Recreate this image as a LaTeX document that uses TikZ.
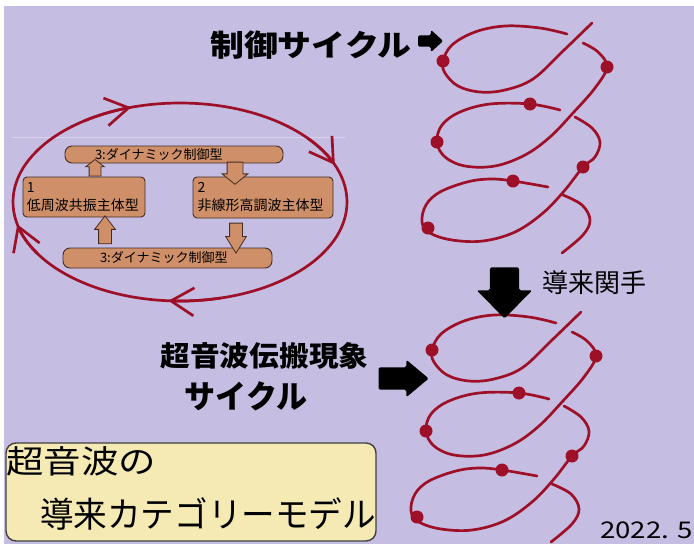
\documentclass[tikz,border=0pt]{standalone}
\usepackage{fontspec}
\setmainfont{Noto Sans CJK JP}
\usetikzlibrary{arrows.meta,shapes.arrows,calc}

\definecolor{lavender}{RGB}{198,190,226}
\definecolor{helixred}{RGB}{158,16,40}
\definecolor{boxbrown}{RGB}{207,143,104}
\definecolor{boxline}{RGB}{70,45,35}
\definecolor{capyellow}{RGB}{246,234,180}

% squeeze or widen a text
\newcommand{\sx}[2]{\scalebox{#1}[1]{#2}}

% one coil, three turns
\newcommand{\helix}{%
  \draw[helix] plot[smooth, tension=0.6] coordinates {(592,-23) (562,-52) (533,-79) (505,-90) (480,-92) (458,-86) (445,-73) (443,-61) (452,-45) (475,-32) (505,-26) (540,-28) (567,-34)};
  \draw[helix] plot[smooth, tension=0.6] coordinates {(583,-43) (598,-52) (607,-67) (595,-88) (573,-113) (550,-137) (525,-155) (495,-166) (465,-166) (445,-157) (437,-142) (442,-125) (460,-112) (490,-104) (530,-104) (560,-110)};
  \draw[helix] plot[smooth, tension=0.6] coordinates {(575,-117) (592,-128) (600,-142) (595,-157) (583,-167) (565,-190) (543,-213) (515,-232) (483,-241) (452,-240) (430,-233) (422,-222) (426,-205) (440,-192) (467,-182) (490,-179) (513,-181) (548,-187)};
  \draw[helix] plot[smooth, tension=0.6] coordinates {(563,-195) (582,-205) (590,-220) (583,-235) (562,-253)};
  \foreach \x/\y in {443/-61, 607/-67, 530/-104, 437/-142, 583/-167, 513/-181, 428/-228}
    \fill[helixred] (\x,\y) circle (6.5);
}

\tikzset{
  helix/.style={draw=helixred, line width=2.7pt, line cap=round},
  ring/.style={draw=helixred, line width=2.7pt},
  barb/.style={ring, line cap=round, -{Straight Barb[length=23pt,width=28pt]}},
  brownbox/.style={draw=boxline, fill=boxbrown, line width=0.9pt, rounded corners=4pt, align=left, font=\fontsize{14}{18}\selectfont},
  brownbar/.style={draw=boxline, fill=boxbrown, line width=0.9pt, rounded corners=7pt, align=left, font=\fontsize{13}{15}\selectfont},
  hollow/.style={single arrow, draw=boxline, fill=boxbrown, line width=0.8pt},
  blk/.style={single arrow, fill=black, rounded corners=1.5pt},
  capbox/.style={draw=black!75, fill=capyellow, line width=1.4pt, rounded corners=10pt},
}

\begin{document}
\begin{tikzpicture}[x=1pt, y=1pt]
  \tikzstyle{every node}+=[inner sep=0pt]
  \useasboundingbox (0,0) rectangle (694,-544);
  \fill[white] (0,0) rectangle (694,-544);
  \fill[lavender] (4,-6) rectangle (694,-544);
  \draw[white, opacity=.35, line width=.6pt] (12,-137) -- (345,-137);

  % the cycle round the four boxes
  \coordinate (c) at (180,-202);
  \draw[ring] (c) ellipse [x radius=167, y radius=99];
  \foreach \a in {107, 22, -94, 193}
    \draw[barb] ($(c)+(\a+18:167 and 99)$) arc [start angle=\a+18, end angle=\a, x radius=167, y radius=99];

  \node[brownbar, minimum width=218pt, minimum height=17pt, inner xsep=30pt, text width=158pt] (bar1) at (174,-154.5) {3:ダイナミック制御型};
  \node[brownbox, minimum width=122pt, minimum height=40pt, text width=114pt] (b1) at (84,-197) {1\\低周波共振主体型};
  \node[brownbox, minimum width=140pt, minimum height=41pt, text width=131pt] (b2) at (263,-197.5) {2\\非線形高調波主体型};
  \node[brownbar, minimum width=209pt, minimum height=20pt, inner xsep=37pt, text width=135pt] (bar2) at (167.5,-258) {3:ダイナミック制御型};

  \node[hollow, shape border rotate=90, inner sep=5.5pt, minimum height=14pt, minimum width=18pt, single arrow head extend=3.5pt, single arrow tip angle=104] (up1) at ($(b1.north)!.5!(b1.north|-bar1.south)+(11,0)$) {};
  \node[hollow, shape border rotate=270, inner sep=7.5pt, minimum height=14pt, minimum width=25pt, single arrow head extend=5pt, single arrow tip angle=102] (dn1) at ($(b2.north)!.5!(b2.north|-bar1.south)+(-28,0)$) {};
  \node[hollow, shape border rotate=270, inner sep=6pt, minimum height=30pt, minimum width=20pt, single arrow head extend=4pt, single arrow tip angle=64] (dn2) at ($(b2.south)!.5!(b2.south|-bar2.north)+(-27,0)$) {};
  \node[hollow, shape border rotate=90, inner sep=6pt, minimum height=28pt, minimum width=20pt, single arrow head extend=4pt, single arrow tip angle=75] (up2) at ($(b1.south)!.5!(b1.south|-bar2.north)+(21,-1.5)$) {};

  % the two coils
  \helix
  \begin{scope}[shift={(-11,-289)}]
    \helix
  \end{scope}

  \node[blk, shape border rotate=0, inner sep=5.5pt, minimum height=25pt, minimum width=22pt, single arrow head extend=5.5pt, single arrow tip angle=85] (ptr1) at (427.5,-41) {};
  \node[blk, shape border rotate=270, inner sep=14.5pt, minimum height=51pt, minimum width=55pt, single arrow head extend=13pt, single arrow tip angle=89] (lift) at (504.5,-285.5) {};
  \node[blk, shape border rotate=0, inner sep=11pt, minimum height=50pt, minimum width=37pt, single arrow head extend=7.5pt, single arrow tip angle=80] (ptr2) at (397,-378.5) {};

  \node[font=\bfseries\fontsize{30}{32}\selectfont] (ctrl) at (311,-45) {\sx{1.13}{制御サイクル}};
  \node[font=\fontsize{26}{28}\selectfont] (functor) at (594.5,-283) {導来関手};
  \node[font=\bfseries\fontsize{28}{30}\selectfont] (wave) at (264.5,-355.5) {\sx{1.06}{超音波伝搬現象}};
  \node[font=\bfseries\fontsize{32}{34}\selectfont] (cyc) at (246,-396) {\sx{0.97}{サイクル}};

  \node[capbox, minimum width=370pt, minimum height=98pt] (cap) at (191,-492) {};
  \node[anchor=west, font=\fontsize{32}{34}\selectfont] (cap1) at (6,-461.5) {\sx{1.17}{超音波の}};
  \node[anchor=west, font=\fontsize{35}{37}\selectfont] (cap2) at (40,-513.5) {\sx{0.96}{導来カテゴリーモデル}};
  \node[anchor=east, font=\fontsize{23}{25}\selectfont] (date) at (693,-530.5) {\sx{1.2}{2022. 5}};
\end{tikzpicture}
\end{document}
